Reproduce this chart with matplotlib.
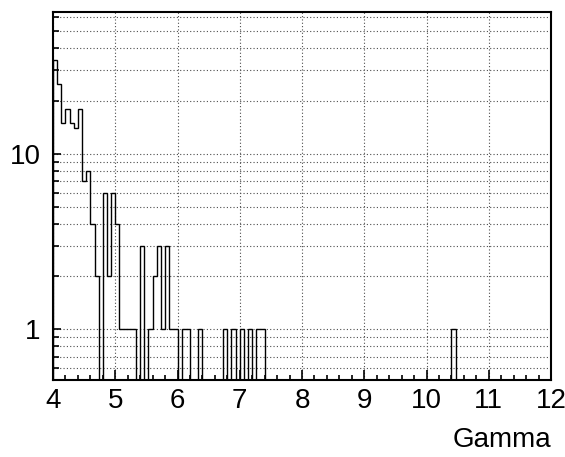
import numpy as np
import matplotlib
matplotlib.use("Agg")
import matplotlib.pyplot as plt
from matplotlib.ticker import LogLocator, MultipleLocator, NullFormatter, FixedLocator, FixedFormatter

# histogram of Gamma: 120 bins from 4 to 12 (width 1/15)
X_MIN, X_MAX, N_BINS = 4.0, 12.0, 120
counts = np.zeros(N_BINS)
filled_bins = [0, 1, 2, 3, 4, 5, 6, 7, 8, 9, 10, 12, 13, 14, 15,
               16, 17, 18, 19, 21, 23, 24, 25, 26, 27, 28, 29, 31, 32, 35,
               41, 43, 45, 47, 49, 50, 96]
filled_vals = [34, 25, 15, 18, 15, 14, 18, 7, 8, 4, 2, 6, 2, 6, 4,
               1, 1, 1, 1, 3, 1, 2, 3, 1, 3, 1, 1, 1, 1, 1,
               1, 1, 1, 1, 1, 1, 1]
counts[filled_bins] = filled_vals
x_ticks = [4, 5, 6, 7, 8, 9, 10, 11, 12]
y_ticks = [1, 10]
y_ticklabels = ["1", "10"]

plt.rcParams["font.family"] = ["Liberation Sans", "DejaVu Sans"]

fig = plt.figure(figsize=(5.65, 4.57), dpi=100)
ax = fig.add_axes([53 / 565, 1 - 380 / 457, (551 - 53) / 565, (380 - 12) / 457])

edges = np.linspace(X_MIN, X_MAX, N_BINS + 1)
# empty bins drop below the frame on a log axis
draw = np.where(counts > 0, counts, 1e-3)
ax.stairs(draw, edges, baseline=1e-3, color="black", lw=1.0)

ax.set_yscale("log")
ax.set_xlim(X_MIN, X_MAX)
ax.set_ylim(0.515, 64)

ax.xaxis.set_major_locator(FixedLocator(x_ticks))
ax.xaxis.set_minor_locator(MultipleLocator(0.2))
ax.yaxis.set_major_locator(FixedLocator(y_ticks))
ax.yaxis.set_major_formatter(FixedFormatter(y_ticklabels))
ax.yaxis.set_minor_locator(LogLocator(base=10, subs=np.arange(2, 10)))
ax.yaxis.set_minor_formatter(NullFormatter())

ax.grid(True, which="major", axis="x", color="0.3", ls=(0, (1, 2)), lw=0.8)
ax.grid(True, which="both", axis="y", color="0.3", ls=(0, (1, 2)), lw=0.8)
ax.set_axisbelow(True)

ax.tick_params(axis="x", which="major", direction="in", length=7, width=1.2,
               labelsize=20, pad=6)
ax.tick_params(axis="x", which="minor", direction="in", length=3.6, width=1.2)
ax.tick_params(axis="y", which="major", direction="in", length=6, width=1.2,
               labelsize=20, pad=9)
ax.tick_params(axis="y", which="minor", direction="in", length=4.5, width=1.2)
for sp in ax.spines.values():
    sp.set_linewidth(1.5)

ax.set_xlabel("Gamma", fontsize=20, loc="right", labelpad=9)

fig.savefig("out.png", dpi=100)
